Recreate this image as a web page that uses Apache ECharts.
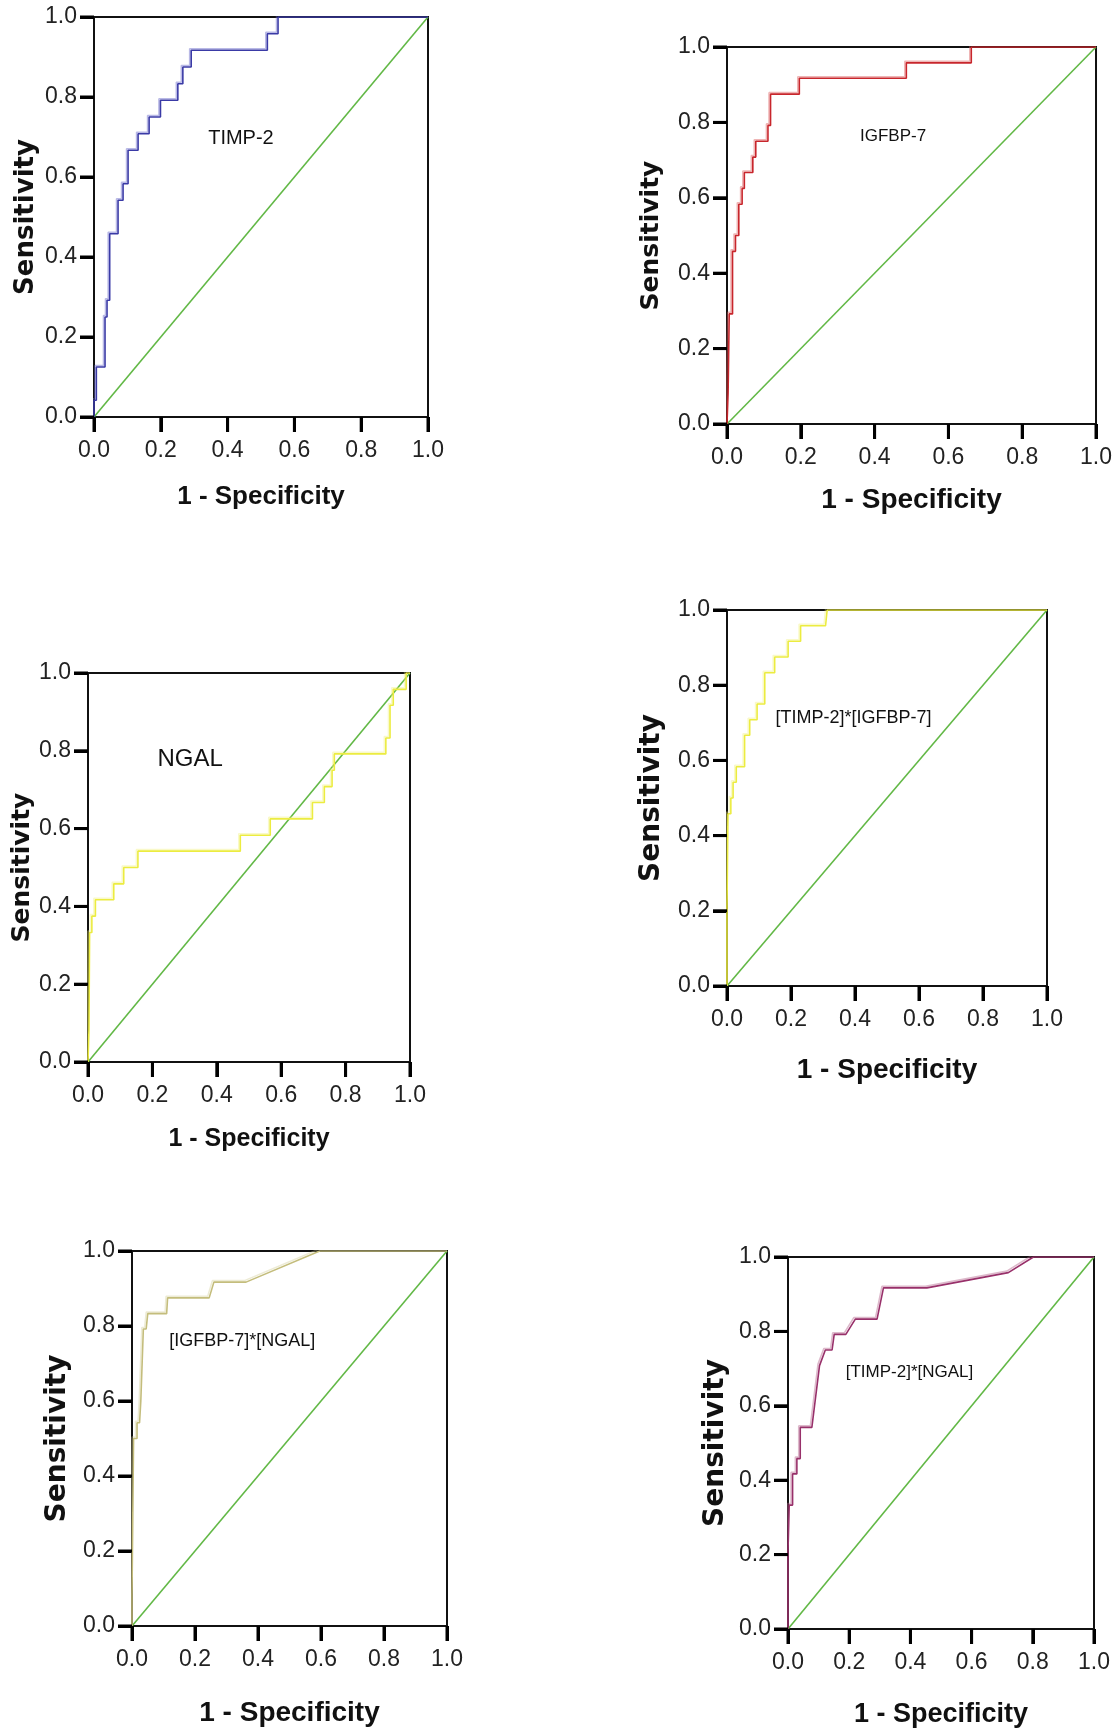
<!DOCTYPE html>
<html>
<head>
<meta charset="utf-8">
<script src="https://cdn.jsdelivr.net/npm/echarts@6/dist/echarts.min.js"></script>
<style>
html,body{margin:0;padding:0;background:#fff;}
#chart{width:1115px;height:1735px;}
</style>
</head>
<body>
<div id="chart"></div>
<script>
// ---------- data ----------
const TICKS = [0, 0.2, 0.4, 0.6, 0.8, 1.0];
const panelLabels = ["TIMP-2", "IGFBP-7", "NGAL", "[TIMP-2]*[IGFBP-7]", "[IGFBP-7]*[NGAL]", "[TIMP-2]*[NGAL]"];
const diagonal = [[0, 0], [1, 1]];

const rocTIMP2 = [[0,0],[0,0.042],[0.007,0.042],[0.007,0.125],[0.033,0.125],[0.033,0.25],[0.039,0.25],[0.039,0.292],[0.047,0.292],[0.047,0.458],[0.072,0.458],[0.072,0.542],[0.087,0.542],[0.087,0.583],[0.102,0.583],[0.102,0.667],[0.132,0.667],[0.132,0.708],[0.165,0.708],[0.165,0.75],[0.199,0.75],[0.199,0.792],[0.251,0.792],[0.251,0.833],[0.266,0.833],[0.266,0.875],[0.291,0.875],[0.291,0.917],[0.519,0.917],[0.519,0.958],[0.551,0.958],[0.551,1],[1,1]];

const rocIGFBP7 = [[0,0],[0.003,0],[0.003,0.083],[0.006,0.083],[0.006,0.292],[0.015,0.292],[0.015,0.458],[0.023,0.458],[0.023,0.5],[0.032,0.5],[0.032,0.583],[0.041,0.583],[0.041,0.625],[0.047,0.625],[0.047,0.667],[0.07,0.667],[0.07,0.708],[0.078,0.708],[0.078,0.75],[0.111,0.75],[0.111,0.792],[0.118,0.792],[0.118,0.875],[0.196,0.875],[0.196,0.917],[0.486,0.917],[0.486,0.958],[0.662,0.958],[0.662,1],[1,1]];

const rocNGAL = [[0,0],[0.003,0],[0.003,0.083],[0.005,0.083],[0.005,0.333],[0.012,0.333],[0.012,0.375],[0.023,0.375],[0.023,0.417],[0.08,0.417],[0.08,0.458],[0.111,0.458],[0.111,0.5],[0.155,0.5],[0.155,0.542],[0.473,0.542],[0.473,0.583],[0.566,0.583],[0.566,0.625],[0.697,0.625],[0.697,0.667],[0.734,0.667],[0.734,0.708],[0.758,0.708],[0.758,0.75],[0.765,0.75],[0.765,0.792],[0.925,0.792],[0.925,0.833],[0.938,0.833],[0.938,0.917],[0.948,0.917],[0.948,0.958],[0.988,0.958],[0.988,1],[1,1]];

const rocTIMP2xIGFBP7 = [[0,0],[0,0.208],[0.003,0.208],[0.003,0.458],[0.012,0.458],[0.012,0.5],[0.019,0.5],[0.019,0.542],[0.029,0.542],[0.029,0.583],[0.055,0.583],[0.055,0.667],[0.071,0.667],[0.071,0.708],[0.094,0.708],[0.094,0.75],[0.118,0.75],[0.118,0.833],[0.149,0.833],[0.149,0.875],[0.191,0.875],[0.191,0.917],[0.23,0.917],[0.23,0.958],[0.308,0.958],[0.313,1],[1,1]];

const rocIGFBP7xNGAL = [[0,0],[0,0.083],[0.005,0.083],[0.005,0.5],[0.016,0.5],[0.016,0.542],[0.024,0.542],[0.028,0.6],[0.036,0.792],[0.045,0.792],[0.05,0.833],[0.11,0.833],[0.113,0.875],[0.245,0.875],[0.26,0.917],[0.362,0.917],[0.596,1],[1,1]];

const rocTIMP2xNGAL = [[0,0],[0,0.208],[0.004,0.208],[0.004,0.333],[0.015,0.333],[0.015,0.417],[0.029,0.417],[0.029,0.458],[0.04,0.458],[0.04,0.542],[0.078,0.542],[0.103,0.708],[0.122,0.75],[0.144,0.75],[0.151,0.792],[0.189,0.792],[0.22,0.833],[0.291,0.833],[0.312,0.917],[0.454,0.917],[0.72,0.958],[0.802,1],[1,1]];

const curves = [rocTIMP2, rocIGFBP7, rocNGAL, rocTIMP2xIGFBP7, rocIGFBP7xNGAL, rocTIMP2xNGAL];
const labelAt = [[0.44,0.696],[0.45,0.763],[0.317,0.777],[0.395,0.712],[0.35,0.76],[0.397,0.689]];

// ---------- layout & styles ----------
const layout = [
  {l:94,  t:17,   r:428,  b:417,  xg:67, yg:55, xs:26, ys:26},
  {l:727, t:47,   r:1097, b:424,  xg:62, yg:63, xs:28, ys:25},
  {l:88,  t:673,  r:410,  b:1062, xg:65, yg:52, xs:25, ys:25},
  {l:727, t:610,  r:1047, b:986,  xg:70, yg:61, xs:28, ys:28},
  {l:132, t:1251, r:447,  b:1626, xg:73, yg:60, xs:28, ys:28},
  {l:788, t:1257, r:1094, b:1629, xg:72, yg:58, xs:27, ys:28}
];
const curveColors = ['#3a3aa6', '#c8262c', '#ecec40', '#ecec40', '#c4bd7c', '#98306a'];
const shade = ['rgba(100,100,200,0.45)','rgba(220,90,90,0.45)','rgba(240,240,120,0.4)','rgba(240,240,120,0.4)','rgba(210,205,150,0.4)','rgba(180,100,140,0.45)'];
const labelSizes = [20, 17, 24, 18, 18, 17];
const tickFont = '"Liberation Sans", Arial, sans-serif';
const titleFont = '"Liberation Sans", Arial, sans-serif';
const yTitleFont = '"DejaVu Sans", "Liberation Sans", sans-serif';
const diagColor = '#62b846';
const axisColor = '#000000';
const X_TICK_LEN = 15, Y_TICK_LEN = 14;

function tickRenderer(params, api) {
  const v = api.value(0);
  const p = api.coord([v, 0]);
  const q = api.coord([0, v]);
  const st = {stroke: axisColor, lineWidth: 3, fill: null};
  return {type:'group', children:[
    {type:'line', shape:{x1:p[0], y1:p[1], x2:p[0], y2:p[1] + X_TICK_LEN}, style:st},
    {type:'line', shape:{x1:q[0] - Y_TICK_LEN, y1:q[1], x2:q[0], y2:q[1]}, style:st}
  ]};
}

const grids = [], xAxes = [], yAxes = [], series = [];
layout.forEach((p, i) => {
  grids.push({left:p.l, top:p.t, width:p.r - p.l, height:p.b - p.t, show:true,
    borderColor:'#111', borderWidth:2});
  xAxes.push({type:'value', gridIndex:i, min:TICKS[0], max:TICKS[TICKS.length-1], interval:0.2,
    axisLine:{show:true, onZero:false, lineStyle:{color:'#111', width:2}},
    axisTick:{show:true, inside:false, length:X_TICK_LEN, lineStyle:{color:axisColor, width:3}},
    axisLabel:{show:true, margin:22, color:'#222', fontFamily:tickFont, fontSize:23,
      formatter:v => v.toFixed(1)},
    splitLine:{show:false},
    name:'1 - Specificity', nameLocation:'middle', nameGap:p.xg,
    nameTextStyle:{fontFamily:titleFont, fontWeight:'bold', fontSize:p.xs, color:'#111'}});
  yAxes.push({type:'value', gridIndex:i, min:TICKS[0], max:TICKS[TICKS.length-1], interval:0.2,
    axisLine:{show:true, onZero:false, lineStyle:{color:'#111', width:2}},
    axisTick:{show:true, inside:false, length:Y_TICK_LEN, lineStyle:{color:axisColor, width:3}},
    axisLabel:{show:true, margin:17, color:'#222', fontFamily:tickFont, fontSize:23,
      formatter:v => v.toFixed(1)},
    splitLine:{show:false},
    name:'Sensitivity', nameLocation:'middle', nameGap:p.yg, nameRotate:90,
    nameTextStyle:{fontFamily:yTitleFont, fontWeight:'bold', fontSize:p.ys, color:'#111'}});
  series.push({type:'line', xAxisIndex:i, yAxisIndex:i, data:diagonal, showSymbol:false,
    lineStyle:{color:diagColor, width:1.6}, z:2, silent:true});
  series.push({type:'line', xAxisIndex:i, yAxisIndex:i, data:curves[i], showSymbol:false,
    lineStyle:{color:curveColors[i], width:1.6, shadowColor:shade[i], shadowBlur:0, shadowOffsetX:-1.5, shadowOffsetY:-1.5},
    z:3, silent:true,
    markPoint:{symbol:'circle', symbolSize:0, silent:true,
      label:{show:true, position:'inside', formatter:panelLabels[i], color:'#111',
        fontFamily:tickFont, fontSize:labelSizes[i]},
      data:[{coord:labelAt[i]}]}});
  // outward tick marks, positioned by the axes' own scales
  series.push({type:'custom', xAxisIndex:i, yAxisIndex:i, clip:false, silent:true, z:10,
    data:TICKS.map(v => [v, 0]), renderItem:tickRenderer});
});

const chart = echarts.init(document.getElementById('chart'), null, {renderer:'canvas'});
chart.setOption({animation:false, grid:grids, xAxis:xAxes, yAxis:yAxes, series:series});
</script>
</body>
</html>
